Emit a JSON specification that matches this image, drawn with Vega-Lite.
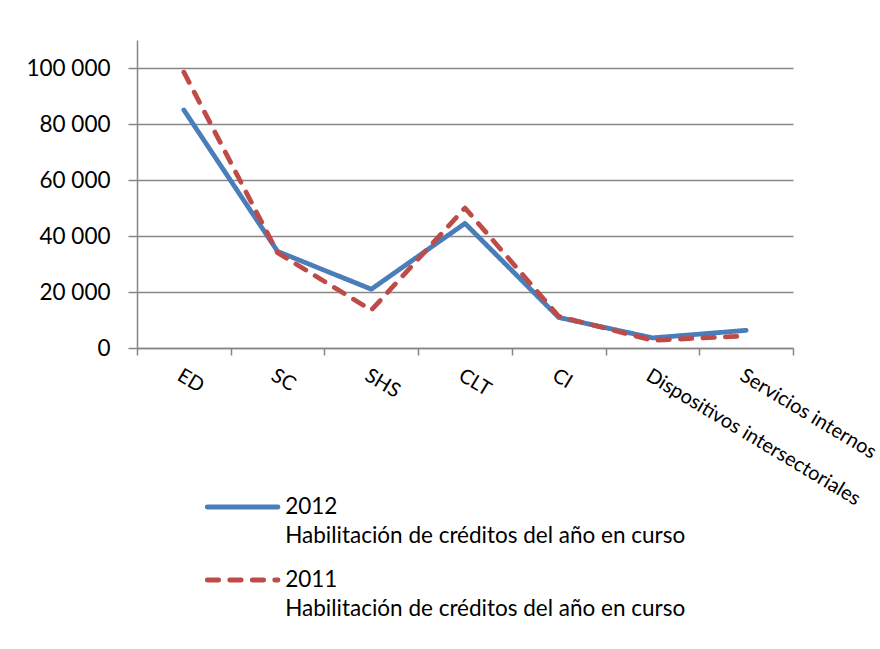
{
  "$schema": "https://vega.github.io/schema/vega-lite/v6.json",
  "width": 656,
  "height": 308,
  "autosize": "none",
  "padding": {"left": 137, "top": 40, "right": 87, "bottom": 301},
  "background": "white",
  "config": {"font": "Lato", "view": {"stroke": null}},
  "data": {
    "values": [
      {"sector": "ED", "serie": "2012", "monto": 85000},
      {"sector": "SC", "serie": "2012", "monto": 34500},
      {"sector": "SHS", "serie": "2012", "monto": 21000},
      {"sector": "CLT", "serie": "2012", "monto": 44500},
      {"sector": "CI", "serie": "2012", "monto": 10900},
      {"sector": "Dispositivos intersectoriales", "serie": "2012", "monto": 3600},
      {"sector": "Servicios internos", "serie": "2012", "monto": 6300},
      {"sector": "ED", "serie": "2011", "monto": 98500},
      {"sector": "SC", "serie": "2011", "monto": 34000},
      {"sector": "SHS", "serie": "2011", "monto": 13500},
      {"sector": "CLT", "serie": "2011", "monto": 50000},
      {"sector": "CI", "serie": "2011", "monto": 11300},
      {"sector": "Dispositivos intersectoriales", "serie": "2011", "monto": 2750},
      {"sector": "Servicios internos", "serie": "2011", "monto": 4300}
    ]
  },
  "mark": {"type": "line", "strokeWidth": 4.8, "strokeCap": "round", "strokeJoin": "round"},
  "encoding": {
    "x": {
      "field": "sector",
      "type": "nominal",
      "sort": null,
      "bandPosition": 0.5,
      "scale": {"type": "band", "paddingInner": 0, "paddingOuter": 0},
      "axis": {
        "title": null,
        "grid": false,
        "tickBand": "extent",
        "domainColor": "#868686",
        "domainWidth": 1.5,
        "tickColor": "#868686",
        "tickWidth": 1.5,
        "tickSize": 7,
        "labelAngle": 31,
        "labelAlign": "left",
        "labelBaseline": "top",
        "labelPadding": 10,
        "labelFontSize": 20,
        "labelColor": "black",
        "labelOverlap": false,
        "labelLimit": 500
      }
    },
    "y": {
      "field": "monto",
      "type": "quantitative",
      "scale": {"domain": [0, 110000], "nice": false},
      "axis": {
        "title": null,
        "values": [0, 20000, 40000, 60000, 80000, 100000],
        "labelExpr": "replace(format(datum.value, ','), ',', ' ')",
        "grid": true,
        "gridColor": "#868686",
        "gridWidth": 1.5,
        "domainColor": "#868686",
        "domainWidth": 1.5,
        "tickColor": "#868686",
        "tickWidth": 1.5,
        "tickSize": 9,
        "labelPadding": 18,
        "labelFontSize": 22.5,
        "labelColor": "black"
      }
    },
    "color": {
      "field": "serie",
      "type": "nominal",
      "scale": {"domain": ["2012", "2011"], "range": ["#4A7EBB", "#BE4B48"]},
      "legend": {
        "orient": "none",
        "legendX": 73.6,
        "legendY": 435,
        "direction": "vertical",
        "title": null,
        "padding": 0,
        "symbolType": "M-1.2,0H1.2",
        "symbolSize": 3481,
        "symbolStrokeWidth": 4.8,
        "labelFontSize": 22.5,
        "labelColor": "black",
        "labelOffset": 10.6,
        "labelLimit": 600,
        "rowPadding": 0,
        "labelExpr": "[datum.label, 'Habilitación de créditos del año en curso']",
        "encode": {
          "labels": {"update": {"lineHeight": {"value": 29}}},
          "symbols": {"update": {"strokeCap": {"value": "round"}}}
        }
      }
    },
    "strokeDash": {
      "field": "serie",
      "type": "nominal",
      "scale": {"domain": ["2012", "2011"], "range": [[1, 0], [11.5, 11]]}
    }
  }
}
